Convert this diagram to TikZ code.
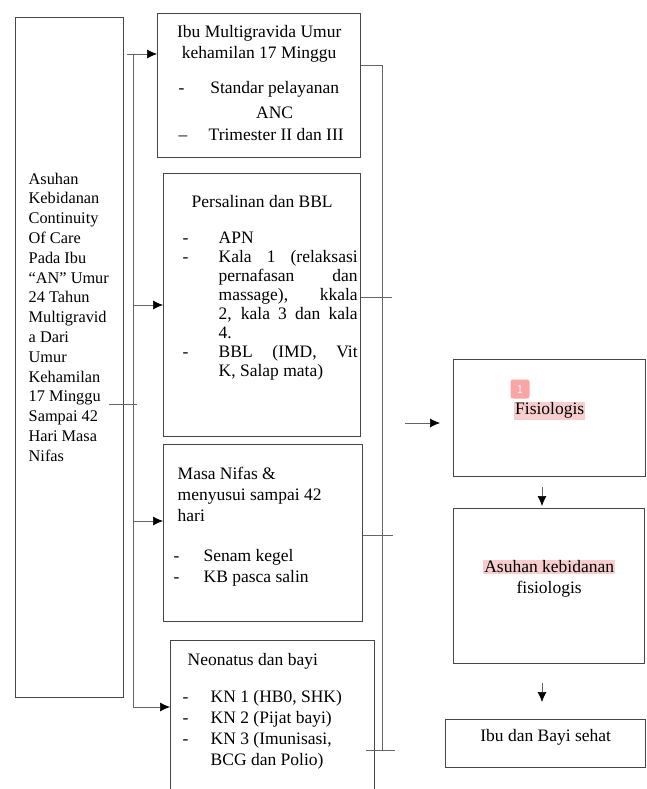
\documentclass[tikz,border=0pt]{standalone}
\usepackage{fontspec}
\setmainfont{Liberation Serif}
\usepackage{xcolor}
\usetikzlibrary{arrows.meta,positioning,calc}

\definecolor{hlpink}{RGB}{247,205,205}
\definecolor{badgepink}{RGB}{249,165,165}
\definecolor{boxgray}{RGB}{70,70,70}
\definecolor{linkgray}{RGB}{100,100,100}
\setlength{\fboxsep}{1pt}

\begin{document}
\begin{tikzpicture}[x=1pt, y=-1pt,
    box/.style={rectangle, draw=boxgray, line width=1.4pt, inner sep=0pt, anchor=north west},
    link/.style={draw=linkgray, line width=0.7pt},
    arrow/.style={link, -{Latex[length=10pt,width=9pt,color=black]}},
    badge/.style={fill=badgepink, rounded corners=2.5pt, minimum size=19pt, inner sep=0pt, text=white, font=\sffamily\large}
]
    \useasboundingbox (0,0) rectangle (646,789);
    \clip (0,0) rectangle (646,789);

    % Main title box
    \node[box] (goal) at (15,17) {\parbox[c][680pt][t]{108pt}{\fontsize{16.3}{19.8}\selectfont\leftskip=13pt
        \vspace*{155pt}
        Asuhan\\ Kebidanan\\ Continuity\\ Of Care\\ Pada Ibu\\ “AN” Umur\\ 24 Tahun\\ Multigravid\\ a Dari\\
        Umur\\ Kehamilan\\ 17 Minggu\\ Sampai 42\\ Hari Masa\\ Nifas}};

    % Stages
    \node[box] (anc) at (157,13) {\parbox[c][144pt][t]{203pt}{\fontsize{17.5}{21}\selectfont
        \vspace*{12pt}
        \makebox[203pt]{Ibu Multigravida Umur}\\
        \makebox[203pt]{kehamilan 17 Minggu}\\[14pt]
        \hspace*{21pt}\makebox[30pt][l]{-}\makebox[132pt]{Standar pelayanan}\\[4pt]
        \hspace*{51pt}\makebox[132pt]{ANC}\\[1pt]
        \hspace*{21pt}\makebox[30pt][l]{--}Trimester II dan III}};

    \node[box] (bbl) at (163,173) {\parbox[c][263pt][t]{197pt}{\fontsize{17.5}{19}\selectfont
        \vspace*{22pt}
        \makebox[197pt]{Persalinan dan BBL}\\[17pt]
        \hspace*{19pt}\makebox[36pt][l]{-}APN\\
        \hspace*{19pt}\makebox[36pt][l]{-}\makebox[139pt][s]{Kala 1 (relaksasi}\\
        \hspace*{55pt}\makebox[139pt][s]{pernafasan dan}\\
        \hspace*{55pt}\makebox[139pt][s]{massage), kkala}\\
        \hspace*{55pt}\makebox[139pt][s]{2, kala 3 dan kala}\\
        \hspace*{55pt}4.\\
        \hspace*{19pt}\makebox[36pt][l]{-}\makebox[139pt][s]{BBL (IMD, Vit}\\
        \hspace*{55pt}K, Salap mata)}};

    \node[box] (nifas) at (163,444) {\parbox[c][177pt][t]{199pt}{\fontsize{17.5}{21}\selectfont
        \vspace*{22pt}
        \hspace*{14pt}Masa Nifas \&\\
        \hspace*{14pt}menyusui sampai 42\\
        \hspace*{14pt}hari\\[19pt]
        \hspace*{10pt}\makebox[30pt][l]{-}Senam kegel\\
        \hspace*{10pt}\makebox[30pt][l]{-}KB pasca salin}};

    \node[box] (bayi) at (170,640) {\parbox[c][165pt][t]{204pt}{\fontsize{17.5}{21}\selectfont
        \vspace*{13pt}
        \hspace*{17pt}Neonatus dan bayi\\[16pt]
        \hspace*{12pt}\makebox[28pt][l]{-}KN 1 (HB0, SHK)\\
        \hspace*{12pt}\makebox[28pt][l]{-}KN 2 (Pijat bayi)\\
        \hspace*{12pt}\makebox[28pt][l]{-}KN 3 (Imunisasi,\\
        \hspace*{40pt}BCG dan Polio)}};

    % Outcome column
    \node[box] (fisio) at (453,359) {\parbox[c][117pt][t]{192pt}{\centering\fontsize{17.5}{21}\selectfont
        \vspace*{42pt}
        \colorbox{hlpink}{Fisiologis}}};
    \node[box] (asuhan) at (453,508) {\parbox[c][155pt][t]{191pt}{\centering\fontsize{17.5}{21}\selectfont
        \vspace*{51pt}
        \colorbox{hlpink}{Asuhan kebidanan}\\ fisiologis}};
    \node[box] (sehat) at (445,719) {\parbox[c][48pt][t]{200pt}{\centering\fontsize{17.5}{21}\selectfont
        \vspace*{10pt}
        Ibu dan Bayi sehat}};
    \node[badge] (mark) at (520,389) {1};

    % Left connector
    \coordinate (l1) at (133,54);
    \coordinate (l2) at (133,305);
    \coordinate (l3) at (133,521);
    \coordinate (l4) at (133,707);
    \coordinate (lmid) at (133,404);
    \draw[link] (l1) -- (l4);
    \draw[link] ([xshift=-15pt]goal.east |- lmid) -- ([xshift=4pt]lmid);
    \draw[arrow] ([xshift=-6pt]l1) -- (anc.west |- l1);
    \draw[arrow] (l2) -- (bbl.west |- l2);
    \draw[arrow] (l3) -- (nifas.west |- l3);
    \draw[arrow] (l4) -- (bayi.west |- l4);

    % Right connector
    \coordinate (r1) at (382,65);
    \coordinate (r2) at (382,297);
    \coordinate (r3) at (382,535);
    \coordinate (r4) at (382,750);
    \draw[link] (anc.east |- r1) -- (r1) -- (r4);
    \draw[link] (bbl.east |- r2) -- ([xshift=10pt]r2);
    \draw[link] (nifas.east |- r3) -- ([xshift=11pt]r3);
    \draw[link] ([xshift=-16pt]r4) -- ([xshift=13pt]r4);
    \coordinate (rin) at (405,423);
    \draw[arrow] (rin) -- ([xshift=-13pt]fisio.west |- rin);

    % Down arrows
    \coordinate (d1) at (542,487);
    \coordinate (d2) at (542,683);
    \draw[arrow] (d1) -- ++(0,19);
    \draw[arrow] (d2) -- ++(0,19);
\end{tikzpicture}
\end{document}
